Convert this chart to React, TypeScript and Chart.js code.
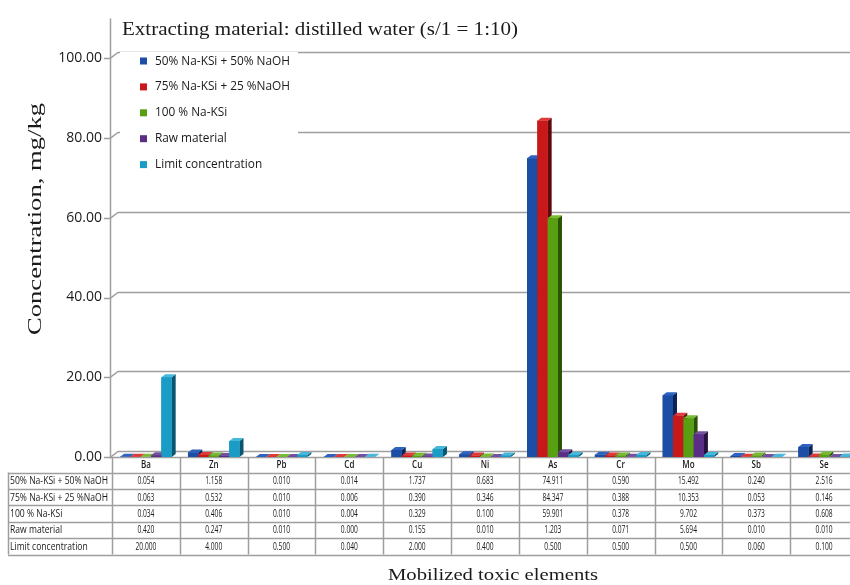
import React, { useEffect, useRef } from 'react';
import { Chart, registerables } from 'chart.js';

Chart.register(...registerables);

// ---- data ----
const categories = ['Ba', 'Zn', 'Pb', 'Cd', 'Cu', 'Ni', 'As', 'Cr', 'Mo', 'Sb', 'Se'];
const seriesLabels = [
  '50% Na-KSi + 50% NaOH',
  '75% Na-KSi + 25 %NaOH',
  '100 % Na-KSi',
  'Raw material',
  'Limit concentration',
];
const mix50 = [0.054, 1.158, 0.01, 0.014, 1.737, 0.683, 74.911, 0.59, 15.492, 0.24, 2.516];
const mix75 = [0.063, 0.532, 0.01, 0.006, 0.39, 0.346, 84.347, 0.388, 10.353, 0.053, 0.146];
const naksi100 = [0.034, 0.406, 0.01, 0.004, 0.329, 0.1, 59.901, 0.378, 9.702, 0.373, 0.608];
const rawMaterial = [0.42, 0.247, 0.01, 0.0, 0.155, 0.01, 1.203, 0.071, 5.694, 0.01, 0.01];
const limitConc = [20.0, 4.0, 0.5, 0.04, 2.0, 0.4, 0.5, 0.5, 0.5, 0.06, 0.1];
const yTicks = [0, 20, 40, 60, 80, 100];
const titleText = 'Extracting material: distilled water (s/1 = 1:10)';
const yTitleText = 'Concentration, mg/kg';
const xTitleText = 'Mobilized toxic elements';

// ---- styles ----
const frontColors = ['#1c4ea6', '#c8181a', '#58a012', '#5a2d86', '#1a9cc6'];
const topColors = ['#2d62c0', '#de3a3a', '#78bb30', '#7450a0', '#45b8dc'];
const sideColors = ['#0b2458', '#5e0a0a', '#2c5206', '#281240', '#0a5570'];
const GRID = '#9e9e9e';
const TEXT = '#1a1a1a';

function fitText(ctx: CanvasRenderingContext2D, text: string, x: number, y: number, sx: number, align: CanvasTextAlign) {
  ctx.save();
  ctx.translate(x, y);
  ctx.scale(sx, 1);
  ctx.textAlign = align;
  ctx.fillText(text, 0, 0);
  ctx.restore();
}

const decor = {
  id: 'decor',
  beforeDatasetsDraw(chart: any) {
    const { ctx, chartArea: ca, scales } = chart;
    const y = scales.y;
    ctx.save();
    ctx.strokeStyle = GRID;
    ctx.lineWidth = 1.5;
    yTicks.forEach((v) => {
      const py = Math.round(y.getPixelForValue(v)) + 0.5;
      ctx.beginPath();
      ctx.moveTo(104, py);
      ctx.lineTo(110, py);
      ctx.lineTo(118, py - 6);
      ctx.lineTo(ca.right, py - 6);
      ctx.stroke();
    });
    const p0 = Math.round(y.getPixelForValue(0)) + 0.5;
    ctx.beginPath();
    ctx.moveTo(110, p0);
    ctx.lineTo(ca.right, p0);
    ctx.stroke();
    ctx.beginPath();
    ctx.moveTo(110.5, ca.top);
    ctx.lineTo(110.5, p0 + 1);
    ctx.stroke();
    ctx.fillStyle = '#ffffff';
    ctx.fillRect(120, 52, 178, 128);
    ctx.restore();
  },
  afterDatasetsDraw(chart: any) {
    const { ctx } = chart;
    ctx.save();
    const DX = 4;
    const DY = -3;
    chart.data.datasets.forEach((_ds: any, i: number) => {
      const meta = chart.getDatasetMeta(i);
      meta.data.forEach((bar: any) => {
        const p = bar.getProps(['x', 'y', 'base', 'width'], true);
        const l = p.x - p.width / 2;
        const r = p.x + p.width / 2;
        const t = Math.min(p.y, p.base);
        const b = Math.max(p.y, p.base);
        ctx.fillStyle = sideColors[i];
        ctx.beginPath();
        ctx.moveTo(r, t);
        ctx.lineTo(r + DX, t + DY);
        ctx.lineTo(r + DX, b + DY);
        ctx.lineTo(r, b);
        ctx.closePath();
        ctx.fill();
        ctx.fillStyle = topColors[i];
        ctx.beginPath();
        ctx.moveTo(l, t);
        ctx.lineTo(l + DX, t + DY);
        ctx.lineTo(r + DX, t + DY);
        ctx.lineTo(r, t);
        ctx.closePath();
        ctx.fill();
        ctx.fillStyle = frontColors[i];
        ctx.fillRect(l, t, p.width, b - t);
      });
    });
    ctx.restore();
  },
  afterDraw(chart: any) {
    const { ctx, chartArea: ca, scales } = chart;
    const x = scales.x;
    const y = scales.y;
    ctx.save();
    ctx.fillStyle = TEXT;
    ctx.textBaseline = 'alphabetic';

    // chart title
    ctx.font = '19px "Liberation Serif", serif';
    let w = ctx.measureText(titleText).width;
    fitText(ctx, titleText, 122, 35, 396 / w, 'left');

    // legend
    ctx.font = '12.5px "Open Sans", sans-serif';
    const legSx = 135 / ctx.measureText(seriesLabels[0]).width;
    ctx.textBaseline = 'middle';
    seriesLabels.forEach((lab, i) => {
      const cy = 61 + i * 25.9;
      ctx.fillStyle = frontColors[i];
      ctx.fillRect(140, cy - 3.5, 7, 7);
      ctx.fillStyle = TEXT;
      fitText(ctx, lab, 155, cy, legSx, 'left');
    });

    // y title
    ctx.font = '19px "Liberation Serif", serif';
    w = ctx.measureText(yTitleText).width;
    ctx.save();
    ctx.translate(36, 219);
    ctx.rotate(-Math.PI / 2);
    ctx.scale(232 / w, 1);
    ctx.textAlign = 'center';
    ctx.textBaseline = 'middle';
    ctx.fillText(yTitleText, 0, 0);
    ctx.restore();

    // x title
    ctx.font = '17px "Liberation Serif", serif';
    ctx.textBaseline = 'alphabetic';
    w = ctx.measureText(xTitleText).width;
    fitText(ctx, xTitleText, 493, 580, 210 / w, 'center');

    // data table
    const n = categories.length;
    const colW = (ca.right - ca.left) / n;
    const top = Math.round(y.getPixelForValue(0)) + 0.5;
    const headH = 15;
    const rowH = 16.4;
    const rows = [mix50, mix75, naksi100, rawMaterial, limitConc];
    const bottom = top + headH + rows.length * rowH;
    ctx.strokeStyle = GRID;
    ctx.lineWidth = 1.5;
    for (let k = 0; k <= n; k++) {
      const cx = Math.round(ca.left + k * colW) + 0.5;
      ctx.beginPath();
      ctx.moveTo(cx, top);
      ctx.lineTo(cx, bottom);
      ctx.stroke();
    }
    ctx.beginPath();
    ctx.moveTo(8.5, top + headH);
    ctx.lineTo(8.5, bottom);
    ctx.stroke();
    for (let r = 0; r <= rows.length; r++) {
      const ry = Math.round(top + headH + r * rowH) + 0.5;
      ctx.beginPath();
      ctx.moveTo(8, ry);
      ctx.lineTo(ca.right, ry);
      ctx.stroke();
    }
    ctx.fillStyle = TEXT;
    ctx.textBaseline = 'middle';
    ctx.font = '600 10px "Open Sans", sans-serif';
    categories.forEach((c, k) => {
      const cx = x.getPixelForValue(k);
      fitText(ctx, c, cx, top + headH / 2 + 0.5, 0.8, 'center');
    });
    ctx.font = '10.5px "Open Sans", sans-serif';
    const tabSx = 98 / ctx.measureText(seriesLabels[0]).width;
    const numSx = 17 / ctx.measureText('0.054').width;
    rows.forEach((vals, r) => {
      const cy = top + headH + (r + 0.5) * rowH + 0.5;
      fitText(ctx, seriesLabels[r], 10, cy, tabSx, 'left');
      vals.forEach((v, k) => {
        const cx = x.getPixelForValue(k);
        fitText(ctx, v.toFixed(3), cx, cy, numSx, 'center');
      });
    });
    ctx.restore();
  },
};

export default function App() {
  const canvasRef = useRef<HTMLCanvasElement | null>(null);

  useEffect(() => {
    const canvas = canvasRef.current;
    if (!canvas) return;
    const seriesData = [mix50, mix75, naksi100, rawMaterial, limitConc];
    const chart = new Chart(canvas, {
      type: 'bar',
      data: {
        labels: categories,
        datasets: seriesData.map((d, i) => ({
          label: seriesLabels[i],
          data: d,
          backgroundColor: frontColors[i],
          borderWidth: 0,
          categoryPercentage: 0.76,
          barPercentage: 1.0,
        })),
      },
      options: {
        responsive: false,
        animation: false,
        devicePixelRatio: 1,
        layout: { padding: { top: 11, bottom: 128, left: 0, right: 0 } },
        plugins: {
          legend: { display: false },
          tooltip: { enabled: false },
          title: { display: false },
        },
        scales: {
          x: { display: false },
          y: {
            min: 0,
            max: 110,
            afterBuildTicks: (s: any) => {
              s.ticks = yTicks.map((v) => ({ value: v }));
            },
            afterFit: (s: any) => {
              s.width = 112;
            },
            grid: { display: false, drawTicks: false },
            border: { display: false },
            ticks: {
              padding: 10,
              color: TEXT,
              font: { family: '"Open Sans", sans-serif', size: 14 },
              callback: (v: any) => Number(v).toFixed(2),
            },
          },
        },
      },
      plugins: [decor],
    } as any);
    return () => chart.destroy();
  }, []);

  return (
    <div style={{ position: 'absolute', left: 0, top: 0, width: 850, height: 585, overflow: 'hidden', background: '#fff' }}>
      <canvas ref={canvasRef} width={858} height={585} style={{ display: 'block', width: 858, height: 585 }} />
    </div>
  );
}
